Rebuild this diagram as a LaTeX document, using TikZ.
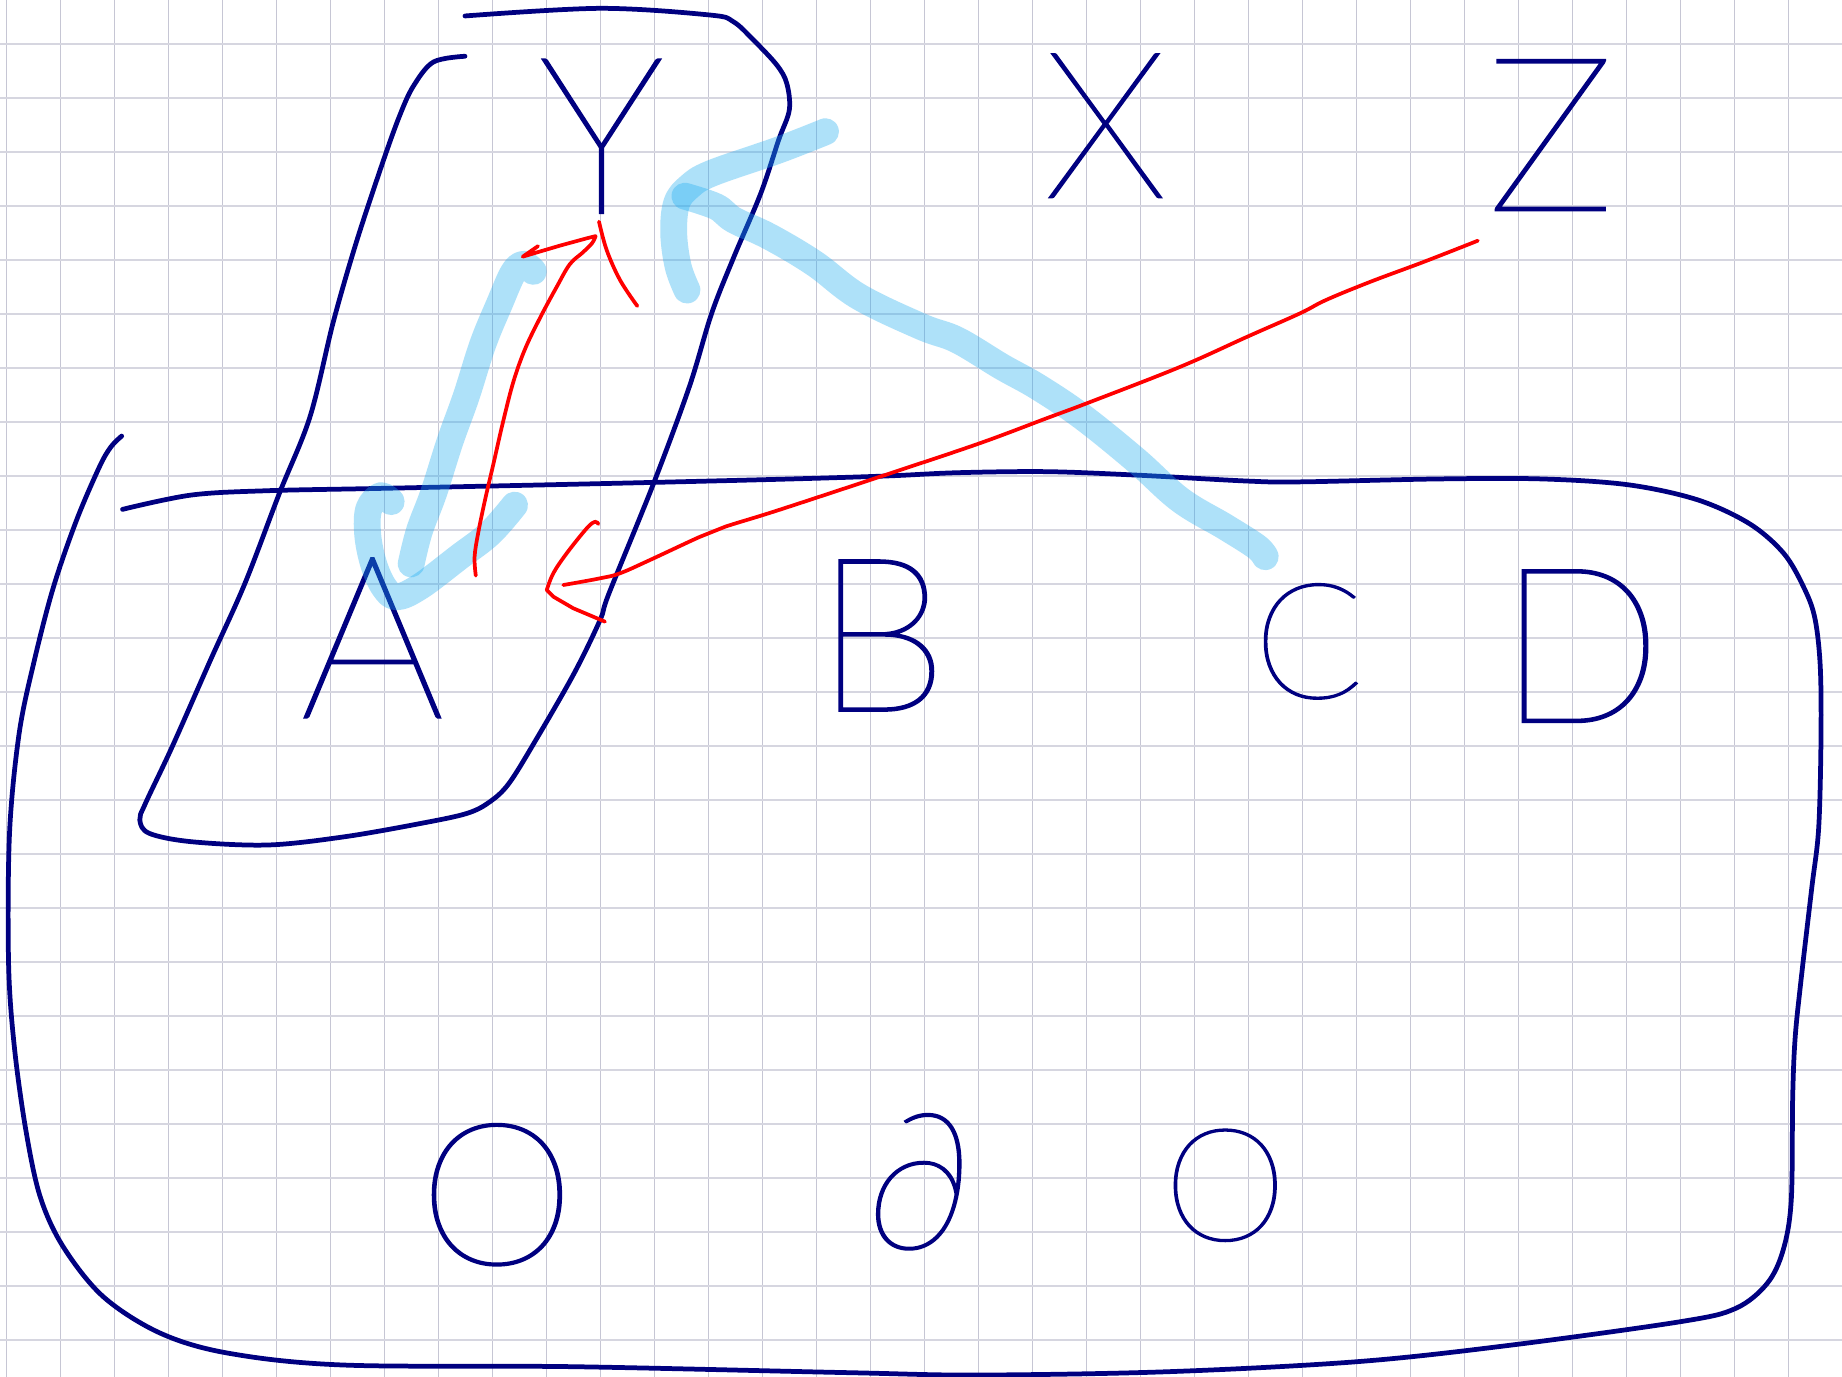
\documentclass[tikz,border=0pt]{standalone}
\usepackage{fontspec}
\IfFontExistsTF{Lato Hairline}{\newfontfamily\handfont{Lato Hairline}[FakeBold=1.1]}{\IfFontExistsTF{Lato Light}{\newfontfamily\handfont{Lato Light}}{\newfontfamily\handfont{Lato}}}
\definecolor{ink}{RGB}{0,0,128}
\definecolor{redink}{RGB}{255,0,0}
\definecolor{hilite}{RGB}{32,173,241}
\definecolor{gridv}{RGB}{198,198,212}
\definecolor{gridh}{RGB}{214,214,224}
\tikzset{
  pen/.style={draw=ink, line width=2.3pt, line cap=round, line join=round},
  redpen/.style={draw=redink, line width=1.8pt, line cap=round, line join=round},
  marker/.style={draw=hilite, draw opacity=0.36, line width=13pt, line cap=round, line join=round},
  letter/.style={text=ink, inner sep=0pt, font=\handfont\fontsize{#1}{#1}\selectfont},
}
\begin{document}
\begin{tikzpicture}[x=0.02cm, y=-0.02cm]
\useasboundingbox (0,0) rectangle (1568,1172);
\fill[white] (0,0) rectangle (1568,1172);
% grid paper
\foreach \k in {0,...,34} \draw[gridv, line width=0.5pt] ({5.7+45.97*\k},0) -- ({5.7+45.97*\k},1172);
\foreach \k in {0,...,24} \draw[gridh, line width=0.9pt] (0,{37.5+45.97*\k}) -- (1568,{37.5+45.97*\k});

% big rounded box
\draw[pen] plot[smooth, tension=0.55] coordinates {(103.6,371.2) (94.5,380.3) (84.7,397.3) (65.2,442.7) (45.6,499.4) (29.3,561.9) (16.3,624.3) (8.1,709.4) (7.3,820) (12.2,891) (22,962) (34.2,1018.7) (53.8,1061.3) (88,1103.9) (136.8,1135) (195.5,1152.1) (293.2,1162) (488.7,1163.4) (723.6,1168.5) (831.3,1170.5) (992.9,1167.7) (1154.3,1159.2) (1283.2,1145.4) (1430.3,1125.1) (1477.4,1113.8) (1504.3,1092.5) (1517.9,1064.1) (1524.8,1021.6) (1526,934.3) (1528.1,883.4) (1533.3,832.6) (1542.2,756.2) (1548.1,705.3) (1550.1,629) (1549.5,567.9) (1545.1,527.2) (1536.3,501.8) (1518.6,471.3) (1489.2,445.8) (1445.1,425.5) (1386.2,412.7) (1312.7,407.7) (1224.4,407.7) (1106.7,410.2) (1061.8,409.5) (966.8,404.4) (890.8,401.5) (814.8,402.4) (754,405.2) (662.8,408) (510.8,411.7) (325.8,415.7) (228.1,417.7) (162.9,421.4) (104.3,433.6)};

% tilted box round A and Y
\draw[pen] plot[smooth, tension=0.55] coordinates {(395.8,47.9) (368.9,52.8) (351.9,73.3) (340.5,97.7) (326.3,136.8) (303.6,205.3) (283.8,273.7) (263.9,354.7) (237.8,420) (208.5,496.6) (179.2,561.8) (146.6,635.6) (123.8,683.9) (119,698) (127.1,709.4) (162.9,716.5) (228.1,719.3) (293.2,712.3) (358.4,700.9) (397.5,692.4) (417,682.5) (433.3,666.8) (456.1,630) (488.7,573.2) (510.8,527.8) (518.4,505.1) (556.4,411.4) (586.8,329.2) (605.8,266.7) (624.8,218.5) (647.6,164.6) (662.8,119.2) (671.9,93.6) (669.7,70.9) (661.2,55.3) (641.3,34) (624.3,18.5) (604.4,12.8) (510.8,7.1) (395.8,13.6)};

% letters
\node[letter=106] (Y) at (512,116) {Y};
\node[letter=99] (X) at (941,107) {X};
\node[letter=104] (Z) at (1320,115) {Z};
\node[letter=110] (A) at (317,543) {A};
\node[letter=104] (B) at (750,541) {B};
\node[letter=78] (C) at (1114,546) {C};
\node[letter=105] (D) at (1345,550) {D};
\node[letter=96] (O1) at (423,1017) {O};
\node[letter=92] (P) at (782,1006) {∂};
\node[letter=76] (O2) at (1043,1009) {O};

% highlighter strokes
\draw[marker] plot[smooth, tension=0.6] coordinates {(333,427) (324,422) (314,433) (313,455) (318,480) (327,500) (338,508) (358,499) (391,474) (417,454) (438,430)};
\draw[marker] plot[smooth, tension=0.6] coordinates {(454,231) (446,225) (437,232) (425,259) (411,293) (397,337) (383,376) (369,420) (357,452) (350,480)};
\draw[marker] plot[smooth, tension=0.6] coordinates {(702.7,112.1) (662.8,127.7) (605.8,147.5) (586.8,158.9) (576,173) (573.5,198.6) (577.3,227) (584.8,246.9)};
\draw[marker] plot[smooth, tension=0.6] coordinates {(583,167) (609.6,175.9) (624.8,187.3) (655.1,201.5) (693.2,224.2) (731.2,252.6) (784.4,278.1) (814.8,289.4) (852.8,312.2) (883.2,329.2) (921.2,354.7) (966.8,391.6) (1004.8,425.6) (1042.8,448.4) (1069.5,465.4) (1077,473.9)};

% red strokes
\draw[redpen] plot[smooth, tension=0.6] coordinates {(405,490) (404,474) (407,454) (413,425) (420,395) (428,360) (437,325) (447,297) (460,270) (474,244) (485,225) (496,215) (504,207) (507,201)} -- (499,203) -- (477,209) -- (460,214) -- (445,218.5) -- (458,209.5);
\draw[redpen] plot[smooth, tension=0.6] coordinates {(509.9,188.7) (516.4,212.8) (527.8,238.4) (542.5,260.5)};
\draw[redpen] plot[smooth, tension=0.6] coordinates {(1258,204.9) (1212.3,222.8) (1166.7,239.8) (1128.7,255.4) (1106.7,266.7) (1061.8,286.6) (1004.8,312.2) (928.8,341.9) (890.8,356.1) (833.8,377.4) (757.8,402.9) (662.8,434.2) (617.2,448.4) (595.9,456.9) (553.3,476.7) (527.8,488) (510.8,492.3) (479.5,498)};
\draw[redpen] plot[smooth, tension=0.6] coordinates {(509.3,446.1) (506.5,444.1) (499.4,449.8) (482.4,471) (471,488) (465.4,502.3)} -- (471,507.9) -- (488,517.8) -- (515,529.2);
\end{tikzpicture}
\end{document}
